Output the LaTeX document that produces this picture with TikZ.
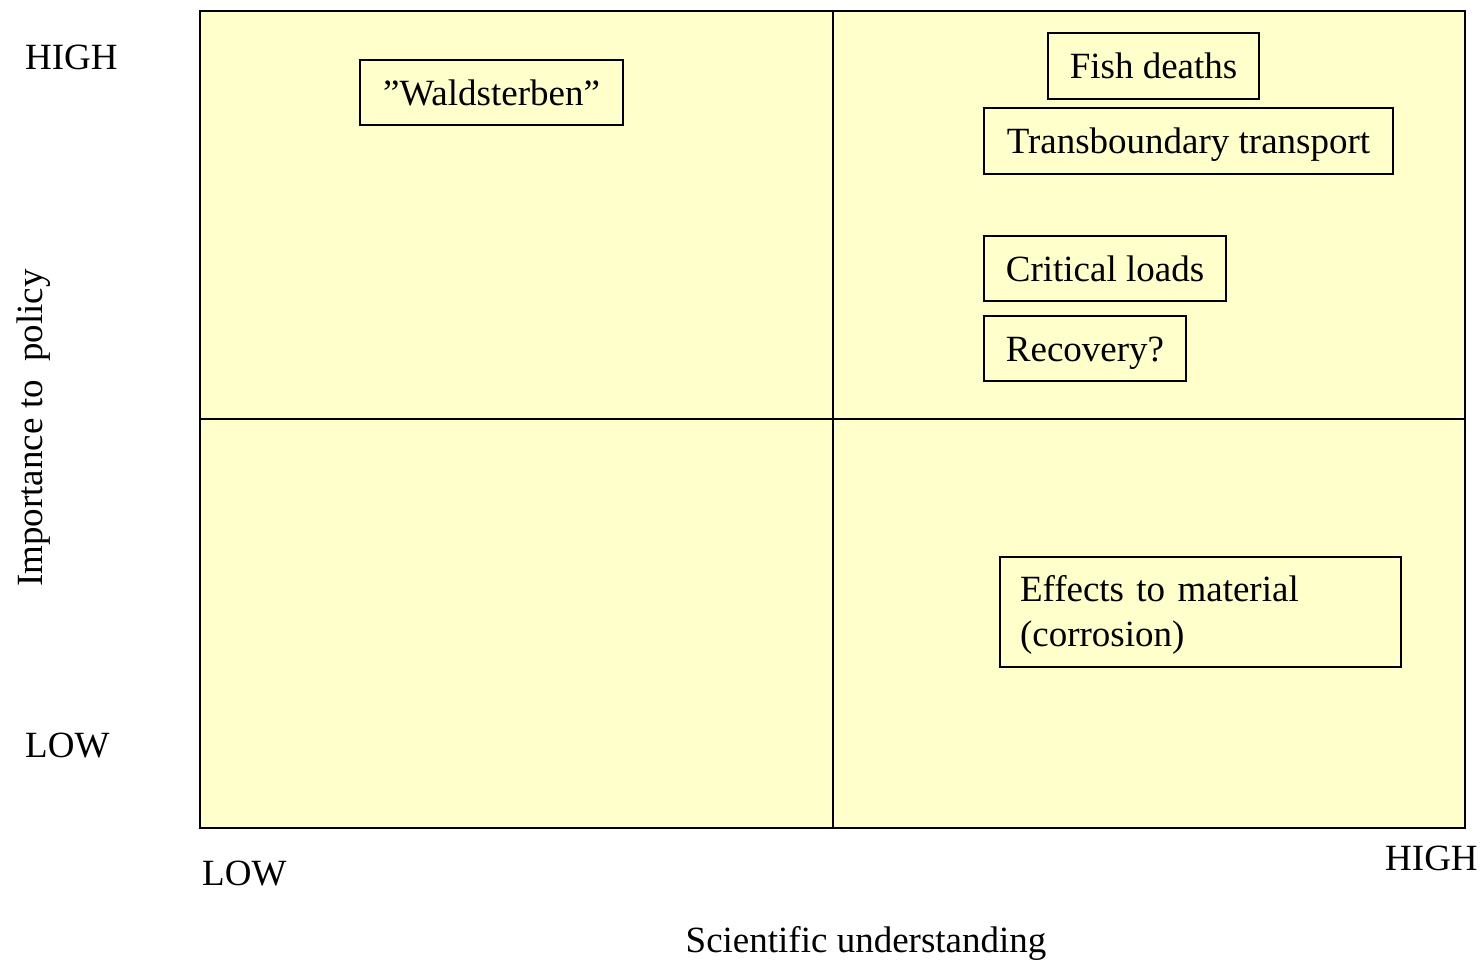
\documentclass[tikz,border=0pt]{standalone}
\usepackage{fontspec}
\setmainfont{Liberation Serif}
\definecolor{paper}{HTML}{FFFFCC}
\begin{document}
\begin{tikzpicture}[x=1pt,y=-1pt,
  lab/.style={font=\fontsize{37}{45}\selectfont, inner sep=0pt, anchor=base},
  item/.style={draw, line width=1.5pt, font=\fontsize{37}{45}\selectfont, inner sep=0pt, text height=26pt, text depth=0pt},
  grid line/.style={line width=1.5pt}
]
\useasboundingbox (0,0) rectangle (1482,960);
% quadrant field
\coordinate (tl) at (200,11);
\coordinate (br) at (1465,828);
\coordinate (mt) at (833,11);
\coordinate (mb) at (833,828);
\coordinate (ml) at (200,419);
\coordinate (mr) at (1465,419);
\draw[grid line, fill=paper] (tl) rectangle (br);
\draw[grid line] (mt) -- (mb);
\draw[grid line] (ml) -- (mr);
% axis labels
\node[lab, anchor=base west] (hy) at (25,70) {HIGH};
\node[lab, anchor=base west] (ly) at (25,757) {LOW};
\node[lab, anchor=base west] (lx) at (202,885) {LOW};
\node[lab, anchor=base west] (hx) at (1385,870) {HIGH};
\node[lab] (xl) at (866,952) {Scientific understanding};
\node[lab, rotate=90] (yl) at (42,428) {Importance to~ policy};
% items
\node[item, minimum width=263pt, minimum height=65pt] (wald) at (491.5,92.5) {”Waldsterben”};
\node[item, minimum width=211pt, minimum height=66pt] (fish) at (1153.5,66) {Fish deaths};
\node[item, minimum width=409pt, minimum height=66pt] (trans) at (1188.5,141) {Transboundary transport};
\node[item, minimum width=242pt, minimum height=65pt] (crit) at (1105,268.5) {Critical loads};
\node[item, minimum width=202pt, minimum height=65pt] (reco) at (1085,348.5) {Recovery?};
\node[item, align=left, text width=361pt, inner xsep=20pt, text height=24pt, text depth=45pt, minimum height=110pt] (eff) at (1200.5,612) {Effects to material\\(corrosion)};
\end{tikzpicture}
\end{document}
